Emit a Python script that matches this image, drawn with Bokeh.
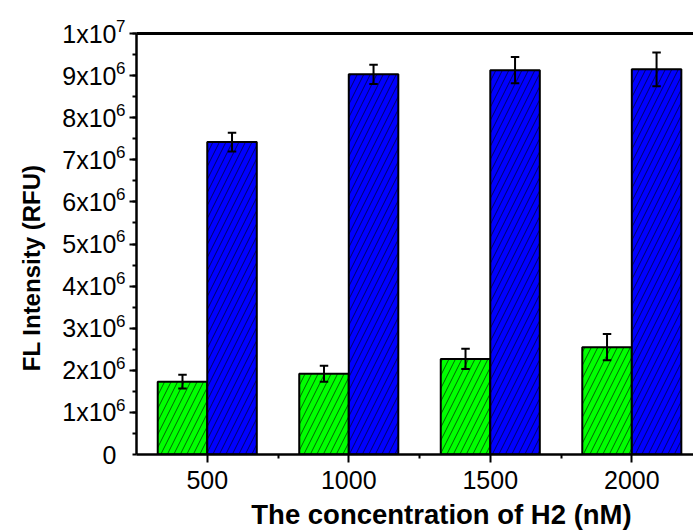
from bokeh.plotting import figure
from bokeh.models import ColumnDataSource, FixedTicker, LinearAxis, Range1d
from bokeh.embed import file_html
from bokeh.resources import INLINE

# Fluorescence intensity vs. H2 concentration, two series per concentration
concentrations = [500, 1000, 1500, 2000]
green_values = [1.73e6, 1.92e6, 2.27e6, 2.55e6]
green_errors = [0.165e6, 0.19e6, 0.24e6, 0.31e6]
blue_values = [7.42e6, 9.03e6, 9.13e6, 9.15e6]
blue_errors = [0.22e6, 0.23e6, 0.31e6, 0.40e6]

y_ticks = [i * 1_000_000 for i in range(11)]
y_mantissa = ["0", "1x10", "2x10", "3x10", "4x10", "5x10",
              "6x10", "7x10", "8x10", "9x10", "1x10"]
y_exponent = ["", "6", "6", "6", "6", "6", "6", "6", "6", "6", "7"]
x_title = "The concentration of H2 (nM)"
y_title = "FL Intensity (RFU)"

FONT = "Liberation Sans"
step = 500
bar_w = 0.35 * step
X0, X1 = 250, 2218
Y0, Y1 = 0, 1e7
FRAME_LEFT, FRAME_W = 136, 557
FRAME_TOP, FRAME_H = 33, 422

p = figure(width=693, height=532, output_backend="svg", toolbar_location=None,
           x_range=Range1d(X0, X1), y_range=Range1d(Y0, Y1),
           min_border_left=FRAME_LEFT, min_border_right=0, min_border_top=FRAME_TOP,
           min_border_bottom=532 - FRAME_TOP - FRAME_H)
p.outline_line_color = None
p.grid.visible = False
p.background_fill_color = "white"
p.border_fill_color = "white"


def draw_series(values, errors, offset, color):
    xs = [c + offset for c in concentrations]
    lo = [v - e for v, e in zip(values, errors)]
    hi = [v + e for v, e in zip(values, errors)]
    src = ColumnDataSource(dict(x=xs, top=values, lo=lo, hi=hi))
    p.vbar(x="x", top="top", width=bar_w, source=src, fill_color=color,
           line_color="black", line_width=2,
           hatch_pattern="/", hatch_color="black", hatch_scale=13,
           hatch_weight=0.6)
    cap = 0.06 * step
    p.segment(x0="x", y0="lo", x1="x", y1="hi", source=src,
              line_color="black", line_width=2)
    caps = ColumnDataSource(dict(x0=[x - cap / 2 for x in xs] * 2,
                                 x1=[x + cap / 2 for x in xs] * 2,
                                 y=lo + hi))
    p.segment(x0="x0", y0="y", x1="x1", y1="y", source=caps,
              line_color="black", line_width=2)


draw_series(green_values, green_errors, -bar_w / 2, "#00ff00")
draw_series(blue_values, blue_errors, bar_w / 2, "#0000ff")


def bare_axis(ticks, labels, size, bold=False, standoff=0, orientation="horizontal"):
    """An axis with no line or tick marks, used only to place text labels."""
    return LinearAxis(ticker=FixedTicker(ticks=ticks, minor_ticks=[]),
                      major_label_overrides=dict(zip(ticks, labels)),
                      axis_line_color=None, major_tick_line_color=None,
                      minor_tick_line_color=None, major_tick_out=0, major_tick_in=0,
                      minor_tick_out=0, minor_tick_in=0,
                      major_label_standoff=standoff,
                      major_label_orientation=orientation,
                      major_label_text_font=FONT, major_label_text_font_size=size,
                      major_label_text_font_style="bold" if bold else "normal",
                      major_label_text_color="black")


# x axis
xa = p.xaxis[0]
xa.ticker = FixedTicker(ticks=concentrations, minor_ticks=[750, 1250, 1750])
xa.axis_line_width = 2.5
xa.major_tick_line_width = 2
xa.minor_tick_line_width = 2
xa.major_tick_out = 8
xa.major_tick_in = 0
xa.minor_tick_out = 4
xa.minor_tick_in = 0
xa.major_label_text_font = FONT
xa.major_label_text_font_size = "25px"
xa.major_label_text_color = "black"
xa.major_label_standoff = 8

# x-axis title
title_x = X0 + (441 - FRAME_LEFT) / FRAME_W * (X1 - X0)
p.add_layout(bare_axis([title_x], [x_title], "27.5px", bold=True, standoff=7), "below")

# y axis next to the frame: tick marks and the raised powers of ten
ya = p.yaxis[0]
ya.ticker = FixedTicker(ticks=y_ticks[1:],
                        minor_ticks=[i * 500_000 for i in range(21)])
ya.major_label_overrides = {t: e + "\n" for t, e in zip(y_ticks[1:], y_exponent[1:])}
ya.axis_line_width = 2.5
ya.major_tick_line_width = 2
ya.minor_tick_line_width = 2
ya.major_tick_out = 7
ya.major_tick_in = 0
ya.minor_tick_out = 4
ya.minor_tick_in = 0
ya.major_label_text_font = FONT
ya.major_label_text_font_size = "17px"
ya.major_label_text_line_height = 0.75
ya.major_label_text_color = "black"
ya.major_label_standoff = 4

# outer y axis: mantissas
p.add_layout(bare_axis(y_ticks, y_mantissa, "25px", standoff=-3), "left")

# y-axis title, rotated
title_y = Y0 + (455 - 268) / FRAME_H * (Y1 - Y0)
p.add_layout(bare_axis([title_y], [y_title], "24px", bold=True, standoff=14,
                       orientation="vertical"), "left")

# frame top line
top_axis = LinearAxis(ticker=FixedTicker(ticks=[]), axis_line_width=3,
                      major_tick_line_color=None, minor_tick_line_color=None,
                      major_tick_out=0, minor_tick_out=0)
p.add_layout(top_axis, "above")

open("out.html", "w").write(file_html(p, INLINE))
